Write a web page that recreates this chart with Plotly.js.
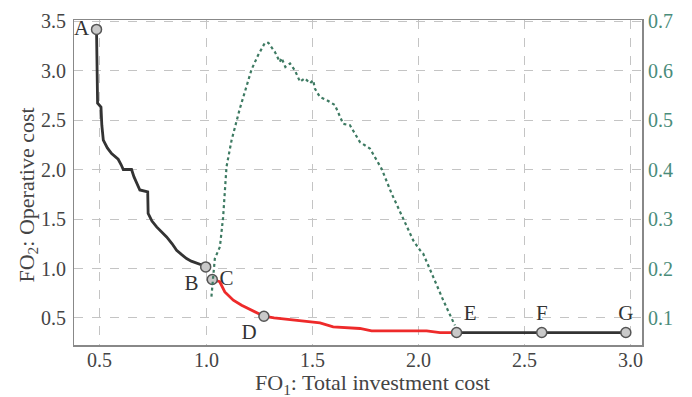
<!DOCTYPE html>
<html><head><meta charset="utf-8">
<script src="https://cdn.plot.ly/plotly-3.0.1.min.js"></script>
<style>html,body{margin:0;padding:0;background:#fff}#chart{width:692px;height:397px}</style>
</head><body><div id="chart"></div>
<script>
// Black part of the front (A -> B)
const frontAB_x = [0.484,0.486,0.489,0.505,0.509,0.516,0.535,0.555,0.586,0.600,0.610,0.649,0.660,0.688,0.725,0.727,0.745,0.767,0.790,0.814,0.840,0.861,0.885,0.908,0.930,0.955,0.980,0.998];
const frontAB_y = [3.42,3.0,2.673,2.633,2.45,2.299,2.22,2.164,2.106,2.05,2.002,2.002,1.93,1.795,1.775,1.557,1.48,1.421,1.37,1.320,1.25,1.185,1.14,1.101,1.075,1.057,1.035,1.016];
// Red part of the front (C -> E)
const frontCE_x = [1.029,1.064,1.088,1.128,1.167,1.214,1.272,1.32,1.38,1.442,1.536,1.598,1.724,1.779,2.038,2.101,2.179];
const frontCE_y = [0.889,0.866,0.763,0.679,0.628,0.578,0.517,0.50,0.485,0.477,0.449,0.409,0.393,0.369,0.369,0.352,0.352];
// Black tail (E -> G)
const frontEG_x = [2.179,2.58,2.976];
const frontEG_y = [0.352,0.352,0.352];
// Green dotted series (right axis)
const dotted_x = [1.025,1.041,1.065,1.080,1.096,1.120,1.159,1.185,1.214,1.245,1.261,1.277,1.293,1.324,1.347,1.355,1.373,1.395,1.418,1.442,1.465,1.489,1.504,1.512,1.536,1.567,1.606,1.630,1.645,1.677,1.692,1.724,1.771,1.826,1.873,1.928,1.975,2.007,2.022,2.069,2.116,2.171];
const dotted_y = [0.143,0.220,0.244,0.304,0.406,0.460,0.524,0.560,0.603,0.632,0.645,0.657,0.657,0.638,0.618,0.626,0.608,0.615,0.601,0.578,0.585,0.575,0.581,0.564,0.547,0.541,0.531,0.507,0.493,0.490,0.480,0.456,0.443,0.402,0.352,0.301,0.257,0.237,0.230,0.183,0.136,0.085];
// Labelled points
const pointLabels = ["A","B","C","D","E","F","G"];
const point_x = [0.484,0.998,1.029,1.272,2.179,2.58,2.976];
const point_y = [3.42,1.016,0.889,0.517,0.352,0.352,0.352];
const labelPos = ["middle left","bottom left","middle right","bottom left","top right","top center","top center"];
// Tick labels
const xTicks = [0.5,1.0,1.5,2.0,2.5,3.0];
const xTickText = ["0.5","1.0","1.5","2.0","2.5","3.0"];
const yTicks = [0.5,1.0,1.5,2.0,2.5,3.0,3.5];
const yTickText = ["0.5","1.0","1.5","2.0","2.5","3.0","3.5"];
const y2Ticks = [0.1,0.2,0.3,0.4,0.5,0.6,0.7];
const y2TickText = ["0.1","0.2","0.3","0.4","0.5","0.6","0.7"];
// Axis titles
const xTitle = "FO<sub>1</sub>: Total investment cost";
const yTitle = "FO<sub>2</sub>: Operative cost";

const FONT = "Liberation Serif";
const TICK_SIZE = 20;
function fnt(size, color) { return {family: FONT, size: size, color: color}; }

const traces = [
  {x: dotted_x, y: dotted_y, yaxis: "y2", mode: "lines", line: {color: "#3d7a62", width: 2.2, dash: "dot"}, hoverinfo: "skip"},
  {x: frontAB_x, y: frontAB_y, mode: "lines", line: {color: "#333333", width: 2.8}},
  {x: frontCE_x, y: frontCE_y, mode: "lines", line: {color: "#ee2a2a", width: 2.8}},
  {x: frontEG_x, y: frontEG_y, mode: "lines", line: {color: "#333333", width: 2.8}},
  {x: point_x, y: point_y, mode: "markers+text", text: pointLabels, textposition: labelPos,
   textfont: fnt(21, "#333"),
   marker: {size: 10, color: "#c9c9c9", line: {color: "#555", width: 1.5}}}
];

// tick labels placed at the axes' own tick values
const annotations = [];
xTicks.forEach(function(v, i){
  annotations.push({x: v, xref: "x", y: 0, yref: "paper", yanchor: "middle", yshift: -15,
    text: xTickText[i], showarrow: false, font: fnt(TICK_SIZE, "#444")});
});
yTicks.forEach(function(v, i){
  annotations.push({x: 0, xref: "paper", xanchor: "right", xshift: -6, y: v, yref: "y", yanchor: "middle",
    text: yTickText[i], showarrow: false, font: fnt(TICK_SIZE, "#444")});
});
y2Ticks.forEach(function(v, i){
  annotations.push({x: 1, xref: "paper", xanchor: "left", xshift: 4, y: v, yref: "y2", yanchor: "middle",
    text: y2TickText[i], showarrow: false, font: fnt(TICK_SIZE, "#4a8c7a")});
});
annotations.push({x: 0.525, xref: "paper", y: 0, yref: "paper", yanchor: "middle", yshift: -39,
  text: xTitle, showarrow: false, font: fnt(22, "#444")});
annotations.push({x: 0, xref: "paper", xanchor: "center", xshift: -47, y: 0.46, yref: "paper",
  textangle: -90, text: yTitle, showarrow: false, font: fnt(22, "#444")});

function axisBase() {
  return {
    showline: true, mirror: true, linecolor: "#888", linewidth: 1.5,
    showgrid: true, gridcolor: "#c4c4c4", griddash: "dash", gridwidth: 1,
    zeroline: false, ticks: "", showticklabels: false, tickmode: "array"
  };
}
const xa = axisBase();
Object.assign(xa, {range: [0.378, 3.052], tickvals: xTicks, ticktext: xTickText});
const ya = axisBase();
Object.assign(ya, {range: [0.226, 3.515], tickvals: yTicks, ticktext: yTickText});
const layout = {
  width: 692, height: 397, showlegend: false,
  font: fnt(17, "#444"),
  margin: {l: 74, r: 50, t: 20, b: 52},
  paper_bgcolor: "#fff", plot_bgcolor: "#fff",
  xaxis: xa, yaxis: ya,
  yaxis2: {overlaying: "y", side: "right", range: [0.0452, 0.703], tickmode: "array", tickvals: y2Ticks, ticktext: y2TickText,
    showgrid: false, zeroline: false, showline: true, linecolor: "#888", linewidth: 1.5,
    ticks: "", showticklabels: false},
  annotations: annotations
};
Plotly.newPlot("chart", traces, layout, {displayModeBar: false, staticPlot: true});
</script></body></html>
